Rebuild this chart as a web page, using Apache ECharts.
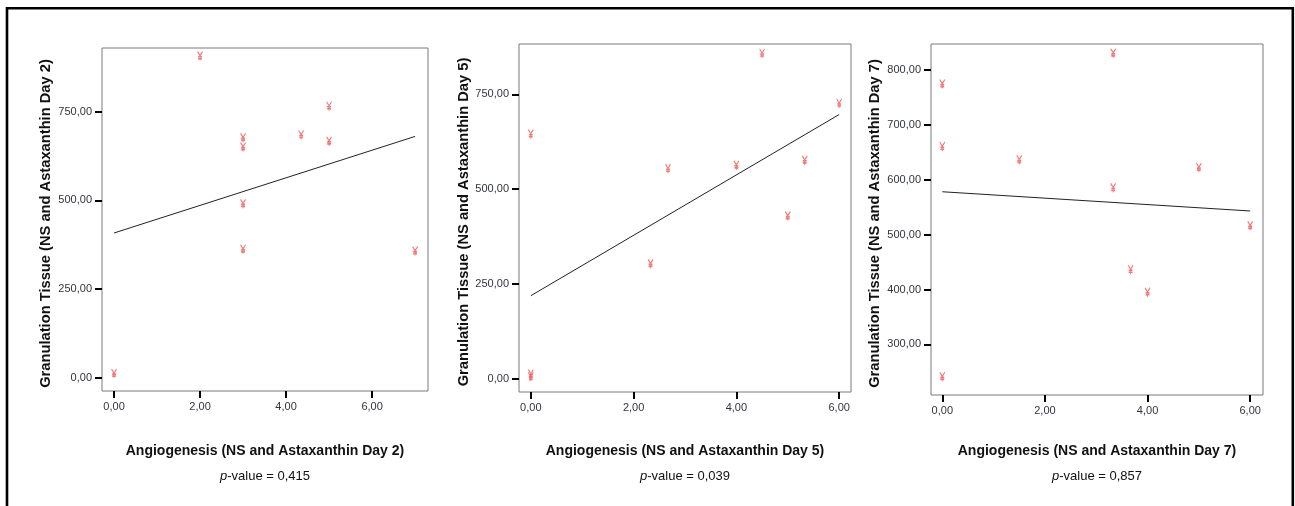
<!DOCTYPE html>
<html>
<head>
<meta charset="utf-8">
<script src="https://cdn.jsdelivr.net/npm/echarts@6/dist/echarts.min.js"></script>
<style>
  html, body { margin: 0; padding: 0; background: #fff; }
  #chart { width: 1295px; height: 506px; }
</style>
</head>
<body>
<div id="chart"></div>
<script>
// values
const day2X = [0, 2, 3, 3, 3, 3, 4.35, 5, 5, 7]
const day2Y = [12, 906, 676, 650, 490, 362, 684, 765, 666, 357]
const day2FitX = [0, 7]
const day2FitY = [408, 680]

const day5X = [0, 0, 0, 2.33, 2.67, 4, 4.5, 5, 5.33, 6]
const day5Y = [5, 12, 645, 303, 554, 563, 858, 429, 576, 726]
const day5FitX = [0, 6]
const day5FitY = [219, 697]

const day7X = [0, 0, 0, 1.5, 3.33, 3.33, 3.67, 4, 5, 6]
const day7Y = [774, 660, 241, 636, 830, 585, 436, 395, 622, 516]
const day7FitX = [0, 6]
const day7FitY = [578, 543]

const xTicks = [0, 2, 4, 6]
const yTicksA = [0, 250, 500, 750]
const yTicksB = [300, 400, 500, 600, 700, 800]

const pValues = ['0,415', '0,039', '0,857']
const days = ['2', '5', '7']

const pair = (xs, ys) => xs.map((x, i) => [x, ys[i]])
const fmt = (v) => v.toFixed(2).replace('.', ',')

const glyph = 'path://M0,0L2.5,4.5L5,0M2.5,4.5L2.5,10M0.6,5.6L4.4,5.6M0.6,7.8L4.4,7.8'

const panels = [
  { grid: { left: 102, top: 48, width: 326, height: 343 }, xr: [-0.28, 7.3], yr: [-37, 929], yt: yTicksA,
    pts: pair(day2X, day2Y), fit: pair(day2FitX, day2FitY), yGap: 49, xGap: 48 },
  { grid: { left: 519, top: 44, width: 332, height: 348 }, xr: [-0.23, 6.23], yr: [-35, 883], yt: yTicksA,
    pts: pair(day5X, day5Y), fit: pair(day5FitX, day5FitY), yGap: 48, xGap: 47 },
  { grid: { left: 931, top: 44, width: 332, height: 351 }, xr: [-0.22, 6.25], yr: [208, 847], yt: yTicksB,
    pts: pair(day7X, day7Y), fit: pair(day7FitX, day7FitY), yGap: 49, xGap: 44 }
]

const tickLabel = { color: '#33343f', fontFamily: 'Liberation Sans, Arial', fontSize: 11 }

const chart = echarts.init(document.getElementById('chart'))
chart.setOption({
  animation: false,
  graphic: [{
    type: 'polyline',
    shape: { points: [[7, 506], [7, 8.3], [1292.8, 8.3], [1292.8, 506]] },
    style: { stroke: '#000', lineWidth: 2.6, fill: null }
  }],
  grid: panels.map(p => ({ ...p.grid, show: true, borderColor: '#7a7a7a', borderWidth: 1, backgroundColor: '#fff' })),
  xAxis: panels.map((p, i) => ({
    type: 'value', gridIndex: i, min: p.xr[0], max: p.xr[1],
    axisLine: { show: false, onZero: false },
    axisTick: { show: true, length: 7, customValues: xTicks, lineStyle: { color: '#000', width: 2 } },
    axisLabel: { ...tickLabel, margin: 10, customValues: xTicks, formatter: fmt },
    splitLine: { show: false },
    name: '{t|Angiogenesis (NS and Astaxanthin Day ' + days[i] + ')}\n{i|p}{v|-value = ' + pValues[i] + '}',
    nameLocation: 'middle', nameGap: p.xGap, nameMoveOverlap: false,
    nameTextStyle: {
      rich: {
        t: { fontFamily: 'Liberation Sans, Arial', fontWeight: 'bold', fontSize: 14, color: '#111', lineHeight: 25 },
        i: { fontFamily: 'Liberation Sans, Arial', fontStyle: 'italic', fontSize: 13, color: '#111', lineHeight: 25 },
        v: { fontFamily: 'Liberation Sans, Arial', fontSize: 13, color: '#111', lineHeight: 25 }
      }
    }
  })),
  yAxis: panels.map((p, i) => ({
    type: 'value', gridIndex: i, min: p.yr[0], max: p.yr[1],
    axisLine: { show: false, onZero: false },
    axisTick: { show: true, length: 7, customValues: p.yt, lineStyle: { color: '#000', width: 2 } },
    axisLabel: { ...tickLabel, margin: 10, customValues: p.yt, formatter: fmt },
    splitLine: { show: false },
    name: 'Granulation Tissue (NS and Astaxanthin Day ' + days[i] + ')',
    nameLocation: 'middle', nameGap: p.yGap, nameMoveOverlap: false,
    nameTextStyle: { fontFamily: 'Liberation Sans, Arial', fontWeight: 'bold', fontSize: 14.7, color: '#111', padding: [0, 8, 0, 0] }
  })),
  series: panels.flatMap((p, i) => [
    {
      type: 'scatter', xAxisIndex: i, yAxisIndex: i, data: p.pts,
      symbol: glyph, symbolSize: [5, 9],
      itemStyle: { color: 'rgba(255,255,255,0)', borderColor: '#f26060', borderWidth: 1.2, opacity: 0.85 }
    },
    {
      type: 'line', xAxisIndex: i, yAxisIndex: i, data: p.fit,
      symbol: 'none', lineStyle: { color: '#222', width: 1 }
    }
  ])
})

window.addEventListener('resize', () => chart.resize())
</script>
</body>
</html>
